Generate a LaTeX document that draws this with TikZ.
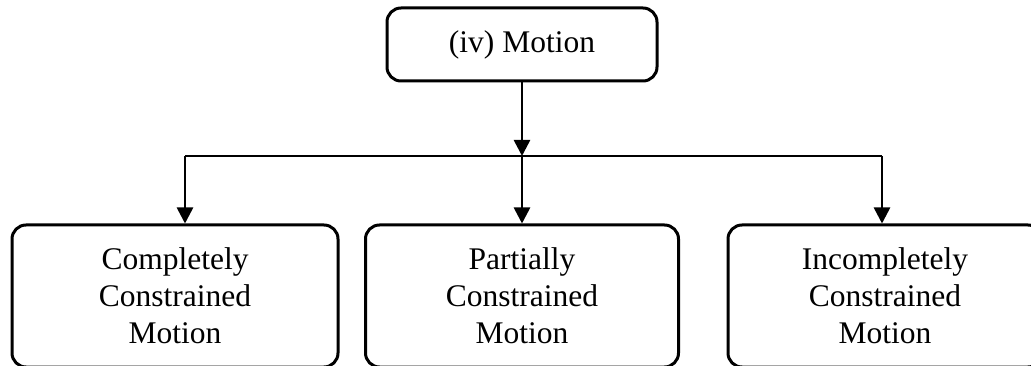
\documentclass[tikz,border=0pt]{standalone}
\usepackage{fontspec}
\setmainfont{Liberation Serif}
\usetikzlibrary{arrows.meta}
\begin{document}
\begin{tikzpicture}[x=1pt,y=-1pt,
  box/.style={draw, line width=3pt, rounded corners=14pt, align=center,
    font=\fontsize{31.5}{37}\selectfont, inner sep=0pt},
  link/.style={line width=2.6pt},
  conn/.style={link, -{Triangle[width=16pt,length=16pt]}}]
\useasboundingbox (0,0) rectangle (1031,366);
\node[box, minimum width=270pt, minimum height=73pt] (top) at (522,44.5) {(iv) Motion};
\node[box, minimum width=326pt, minimum height=142pt] (cc) at (175,296) {Completely\\Constrained\\Motion};
\node[box, minimum width=313pt, minimum height=142pt] (pc) at (522,296) {Partially\\Constrained\\Motion};
\node[box, minimum width=314pt, minimum height=142pt] (ic) at (885,296) {Incompletely\\Constrained\\Motion};
\coordinate (j) at (522,156);
\coordinate (jl) at (185,156);
\coordinate (jr) at (882,156);
\draw[conn] (top.south) -- (j);
\draw[link] (jl) -- (jr);
\draw[conn] (jl) -- (jl |- cc.north);
\draw[link] (j) -- ++(0,2);
\draw[conn] (j) -- (j |- pc.north);
\draw[conn] (jr) -- (jr |- ic.north);
\end{tikzpicture}
\end{document}
